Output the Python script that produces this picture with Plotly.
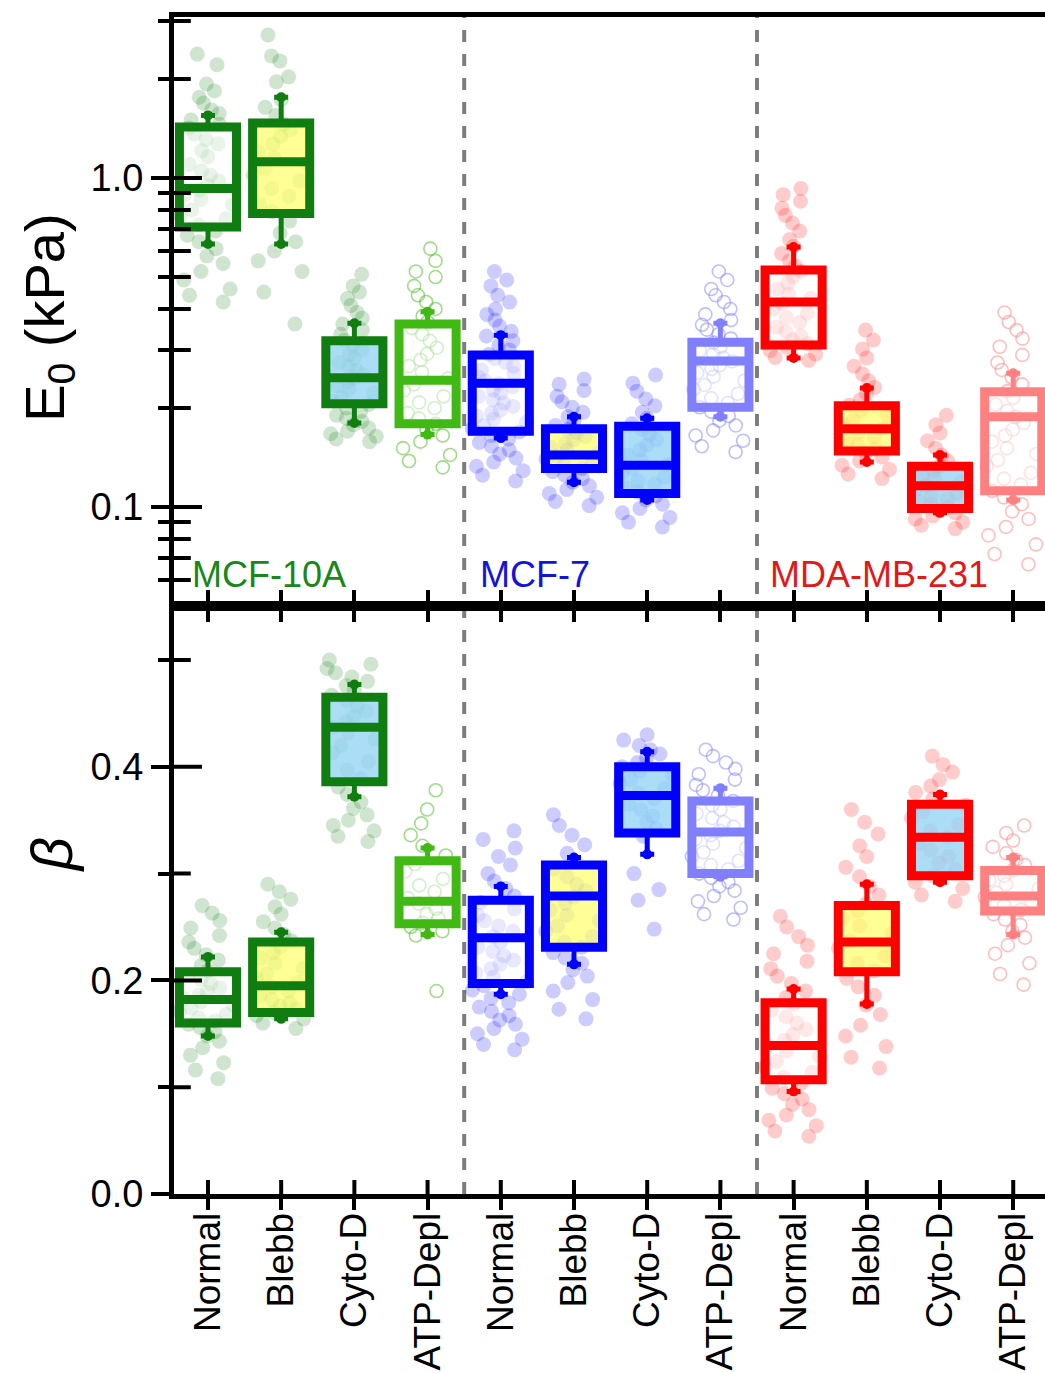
import math
import plotly.graph_objects as go

# ---- categories -------------------------------------------------------------
cell_lines = ["MCF-10A", "MCF-7", "MDA-MB-231"]
treatments = ["Normal", "Blebb", "Cyto-D", "ATP-Depl"]
tick_labels = [t for _ in cell_lines for t in treatments]

# ---- E0 (kPa): box statistics, 12 groups in display order -------------------
e0_q1 = [0.71, 0.78, 0.206, 0.179, 0.170, 0.131, 0.110, 0.201, 0.311, 0.148, 0.099, 0.112]
e0_med = [0.93, 1.12, 0.247, 0.243, 0.238, 0.144, 0.134, 0.278, 0.420, 0.173, 0.116, 0.188]
e0_q3 = [1.43, 1.47, 0.320, 0.360, 0.290, 0.173, 0.176, 0.317, 0.525, 0.203, 0.133, 0.224]
e0_lo = [0.63, 0.63, 0.180, 0.166, 0.162, 0.119, 0.105, 0.188, 0.284, 0.137, 0.096, 0.105]
e0_hi = [1.55, 1.76, 0.362, 0.392, 0.333, 0.188, 0.186, 0.362, 0.617, 0.230, 0.144, 0.255]

# ---- E0 (kPa): individual cells ---------------------------------------------
e0_10a_normal = [2.38, 2.21, 1.93, 1.84, 1.76, 1.69, 1.61, 1.57, 1.50, 1.46, 1.42, 1.36, 1.31, 1.27,
                 1.21, 1.16, 1.10, 1.05, 1.02, 0.98, 0.95, 0.92, 0.89, 0.86, 0.83, 0.80, 0.77, 0.75,
                 0.72, 0.69, 0.67, 0.64, 0.61, 0.58, 0.55, 0.52, 0.49, 0.46, 0.44, 0.42]
e0_10a_blebb = [2.72, 2.35, 2.27, 2.03, 1.96, 1.73, 1.64, 1.55, 1.46, 1.40, 1.34, 1.27, 1.20, 1.15,
                1.11, 1.07, 1.02, 0.98, 0.93, 0.88, 0.83, 0.79, 0.74, 0.68, 0.64, 0.60, 0.56, 0.52,
                0.45, 0.36]
e0_10a_cytod = [0.51, 0.47, 0.45, 0.43, 0.41, 0.39, 0.375, 0.36, 0.345, 0.335, 0.322, 0.31, 0.30,
                0.292, 0.283, 0.275, 0.267, 0.26, 0.253, 0.246, 0.24, 0.234, 0.228, 0.222, 0.216,
                0.21, 0.205, 0.20, 0.195, 0.19, 0.186, 0.182, 0.178, 0.174, 0.17, 0.167, 0.164,
                0.161, 0.158]
e0_10a_atp = [0.61, 0.56, 0.52, 0.50, 0.47, 0.44, 0.42, 0.40, 0.38, 0.365, 0.35, 0.335, 0.32, 0.305,
              0.292, 0.28, 0.268, 0.257, 0.246, 0.236, 0.226, 0.217, 0.208, 0.20, 0.193, 0.186,
              0.179, 0.172, 0.165, 0.158, 0.151, 0.144, 0.138, 0.132]
e0_mcf7_normal = [0.52, 0.49, 0.47, 0.44, 0.42, 0.40, 0.385, 0.37, 0.355, 0.342, 0.331, 0.32, 0.31,
                  0.30, 0.291, 0.283, 0.275, 0.268, 0.261, 0.254, 0.248, 0.242, 0.237, 0.232, 0.227,
                  0.222, 0.217, 0.212, 0.207, 0.202, 0.197, 0.193, 0.189, 0.185, 0.181, 0.177,
                  0.173, 0.169, 0.165, 0.161, 0.157, 0.153, 0.149, 0.145, 0.141, 0.137, 0.133,
                  0.129, 0.125, 0.12]
e0_mcf7_blebb = [0.245, 0.236, 0.226, 0.217, 0.209, 0.201, 0.194, 0.188, 0.182, 0.177, 0.172, 0.168,
                 0.164, 0.16, 0.156, 0.152, 0.149, 0.146, 0.143, 0.14, 0.137, 0.134, 0.131, 0.128,
                 0.125, 0.122, 0.119, 0.116, 0.113, 0.11, 0.107, 0.104, 0.101]
e0_mcf7_cytod = [0.252, 0.238, 0.225, 0.213, 0.203, 0.194, 0.186, 0.179, 0.172, 0.166, 0.16, 0.154,
                 0.149, 0.144, 0.139, 0.135, 0.131, 0.127, 0.123, 0.12, 0.117, 0.114, 0.111, 0.108,
                 0.105, 0.102, 0.099, 0.096, 0.093, 0.09, 0.087]
e0_mcf7_atp = [0.52, 0.49, 0.46, 0.44, 0.42, 0.40, 0.385, 0.37, 0.358, 0.346, 0.335, 0.325, 0.316,
               0.307, 0.299, 0.291, 0.284, 0.277, 0.27, 0.263, 0.256, 0.249, 0.242, 0.235, 0.228,
               0.221, 0.214, 0.207, 0.201, 0.195, 0.189, 0.183, 0.177, 0.171, 0.165, 0.159, 0.153,
               0.147]
e0_mda_normal = [0.93, 0.89, 0.85, 0.81, 0.77, 0.73, 0.69, 0.65, 0.62, 0.59, 0.56, 0.54, 0.52, 0.50,
                 0.48, 0.46, 0.445, 0.43, 0.415, 0.40, 0.388, 0.376, 0.364, 0.352, 0.341, 0.331,
                 0.322, 0.314, 0.306, 0.299, 0.292, 0.285, 0.279]
e0_mda_blebb = [0.345, 0.322, 0.302, 0.284, 0.268, 0.254, 0.242, 0.231, 0.221, 0.212, 0.204, 0.197,
                0.19, 0.184, 0.178, 0.173, 0.168, 0.163, 0.158, 0.154, 0.15, 0.146, 0.142, 0.138,
                0.134, 0.13, 0.126, 0.122]
e0_mda_cytod = [0.19, 0.178, 0.168, 0.159, 0.151, 0.144, 0.138, 0.133, 0.129, 0.125, 0.122, 0.119,
                0.116, 0.113, 0.11, 0.108, 0.106, 0.104, 0.102, 0.10, 0.098, 0.096, 0.094, 0.092,
                0.09, 0.088, 0.086]
e0_mda_atp = [0.39, 0.365, 0.345, 0.325, 0.307, 0.29, 0.275, 0.261, 0.248, 0.236, 0.225, 0.215,
              0.205, 0.196, 0.188, 0.18, 0.172, 0.165, 0.158, 0.151, 0.145, 0.139, 0.133, 0.127,
              0.122, 0.117, 0.112, 0.107, 0.102, 0.097, 0.092, 0.087, 0.082, 0.077, 0.072, 0.067]

# ---- beta: box statistics ----------------------------------------------------
b_q1 = [0.160, 0.170, 0.386, 0.253, 0.197, 0.231, 0.338, 0.300, 0.107, 0.208, 0.298, 0.265]
b_med = [0.182, 0.195, 0.437, 0.274, 0.240, 0.279, 0.373, 0.339, 0.139, 0.236, 0.334, 0.279]
b_q3 = [0.208, 0.236, 0.465, 0.312, 0.275, 0.308, 0.400, 0.368, 0.179, 0.270, 0.365, 0.303]
b_lo = [0.148, 0.164, 0.372, 0.243, 0.187, 0.215, 0.318, 0.297, 0.096, 0.178, 0.292, 0.243]
b_hi = [0.222, 0.245, 0.477, 0.324, 0.288, 0.315, 0.414, 0.380, 0.192, 0.290, 0.374, 0.315]

# ---- beta: individual cells --------------------------------------------------
b_10a_normal = [0.27, 0.263, 0.256, 0.249, 0.242, 0.236, 0.23, 0.224, 0.219, 0.214, 0.209, 0.205,
                0.201, 0.197, 0.193, 0.189, 0.186, 0.183, 0.18, 0.177, 0.174, 0.171, 0.168, 0.165,
                0.162, 0.159, 0.156, 0.152, 0.148, 0.143, 0.137, 0.13, 0.123, 0.116, 0.108]
b_10a_blebb = [0.29, 0.283, 0.276, 0.269, 0.262, 0.255, 0.249, 0.243, 0.237, 0.231, 0.226, 0.221,
               0.216, 0.211, 0.206, 0.202, 0.198, 0.194, 0.19, 0.186, 0.182, 0.179, 0.176, 0.173,
               0.17, 0.167, 0.164, 0.16, 0.155]
b_10a_cytod = [0.50, 0.496, 0.492, 0.488, 0.484, 0.48, 0.476, 0.472, 0.467, 0.462, 0.457, 0.452,
               0.447, 0.442, 0.437, 0.432, 0.426, 0.42, 0.413, 0.405, 0.397, 0.389, 0.381, 0.374,
               0.367, 0.361, 0.355, 0.35, 0.345, 0.34, 0.335, 0.33]
b_10a_atp = [0.378, 0.36, 0.347, 0.336, 0.326, 0.317, 0.309, 0.302, 0.295, 0.289, 0.283, 0.277,
             0.272, 0.267, 0.262, 0.258, 0.254, 0.25, 0.246, 0.242, 0.19]
b_mcf7_normal = [0.34, 0.332, 0.324, 0.316, 0.308, 0.30, 0.293, 0.286, 0.279, 0.273, 0.267, 0.261,
                 0.256, 0.251, 0.246, 0.241, 0.236, 0.231, 0.227, 0.223, 0.219, 0.215, 0.211,
                 0.207, 0.203, 0.199, 0.195, 0.191, 0.187, 0.183, 0.179, 0.175, 0.171, 0.167,
                 0.163, 0.159, 0.155, 0.15, 0.145, 0.14, 0.135]
b_mcf7_blebb = [0.355, 0.345, 0.336, 0.327, 0.319, 0.311, 0.304, 0.297, 0.29, 0.284, 0.278, 0.272,
                0.266, 0.261, 0.256, 0.251, 0.246, 0.241, 0.236, 0.231, 0.226, 0.221, 0.216, 0.21,
                0.204, 0.198, 0.19, 0.182, 0.173, 0.164]
b_mcf7_cytod = [0.43, 0.425, 0.42, 0.416, 0.412, 0.408, 0.404, 0.40, 0.396, 0.392, 0.388, 0.384,
                0.38, 0.375, 0.37, 0.365, 0.36, 0.354, 0.348, 0.342, 0.335, 0.30, 0.285, 0.275,
                0.248]
b_mcf7_atp = [0.416, 0.41, 0.404, 0.398, 0.393, 0.388, 0.383, 0.378, 0.373, 0.368, 0.364, 0.36,
              0.356, 0.352, 0.348, 0.344, 0.34, 0.336, 0.332, 0.328, 0.324, 0.32, 0.316, 0.312,
              0.308, 0.304, 0.30, 0.296, 0.292, 0.288, 0.284, 0.279, 0.274, 0.268, 0.262, 0.257]
b_mda_normal = [0.26, 0.25, 0.241, 0.233, 0.225, 0.218, 0.211, 0.204, 0.197, 0.19, 0.184, 0.178,
                0.172, 0.166, 0.16, 0.154, 0.149, 0.144, 0.139, 0.134, 0.129, 0.124, 0.119, 0.114,
                0.109, 0.104, 0.099, 0.094, 0.089, 0.084, 0.079, 0.074, 0.069, 0.064, 0.059, 0.054]
b_mda_blebb = [0.36, 0.348, 0.337, 0.326, 0.316, 0.306, 0.297, 0.288, 0.28, 0.272, 0.265, 0.258,
               0.251, 0.244, 0.237, 0.23, 0.223, 0.216, 0.209, 0.202, 0.194, 0.186, 0.177, 0.168,
               0.158, 0.148, 0.138, 0.128, 0.118]
b_mda_cytod = [0.41, 0.402, 0.395, 0.388, 0.382, 0.376, 0.37, 0.364, 0.358, 0.352, 0.346, 0.34,
               0.334, 0.328, 0.322, 0.316, 0.31, 0.304, 0.298, 0.292, 0.286, 0.28, 0.274]
b_mda_atp = [0.345, 0.338, 0.331, 0.325, 0.319, 0.313, 0.308, 0.303, 0.298, 0.294, 0.29, 0.286,
             0.282, 0.278, 0.274, 0.27, 0.266, 0.262, 0.257, 0.252, 0.246, 0.24, 0.233, 0.225,
             0.216, 0.206, 0.196]

e0_points = [e0_10a_normal, e0_10a_blebb, e0_10a_cytod, e0_10a_atp,
             e0_mcf7_normal, e0_mcf7_blebb, e0_mcf7_cytod, e0_mcf7_atp,
             e0_mda_normal, e0_mda_blebb, e0_mda_cytod, e0_mda_atp]
b_points = [b_10a_normal, b_10a_blebb, b_10a_cytod, b_10a_atp,
            b_mcf7_normal, b_mcf7_blebb, b_mcf7_cytod, b_mcf7_atp,
            b_mda_normal, b_mda_blebb, b_mda_cytod, b_mda_atp]

# ---- axis ticks ----------------------------------------------------------------
e0_major = [0.1, 1.0]
e0_minor = [0.06, 0.07, 0.08, 0.09, 0.2, 0.3, 0.4, 0.5, 0.6, 0.7, 0.8, 0.9, 2, 3]
b_major = [0.0, 0.2, 0.4]
b_minor = [0.1, 0.3, 0.5]

# ---- styling -----------------------------------------------------------------
FONT = "Arial, 'Liberation Sans', sans-serif"
line_rgb = [(15, 125, 15)] * 3 + [(65, 185, 20)] + \
           [(0, 0, 255)] * 3 + [(128, 128, 255)] + \
           [(255, 0, 0)] * 3 + [(255, 128, 128)]
fill_by_treatment = {
    "Normal": "rgba(255,255,255,0.55)",
    "Blebb": "rgba(255,255,110,0.72)",
    "Cyto-D": "rgba(150,212,245,0.80)",
    "ATP-Depl": "rgba(255,255,255,0.55)",
}
label_colors = ["rgb(25,135,25)", "rgb(20,20,215)", "rgb(225,25,25)"]


def rgba(c, a):
    return f"rgba({c[0]},{c[1]},{c[2]},{a})"


fig = go.Figure()

panels = [
    ("x2", "y", e0_points, e0_q1, e0_med, e0_q3, e0_lo, e0_hi),
    ("x", "y2", b_points, b_q1, b_med, b_q3, b_lo, b_hi),
]

for xa, ya, pts, q1, med, q3, lo, hi in panels:
    for i, vals in enumerate(pts):
        c = line_rgb[i]
        treat = tick_labels[i]
        is_open = treat == "ATP-Depl"
        # individual cells, spread by the box trace's own jitter
        fig.add_trace(go.Box(
            x=[i] * len(vals), y=vals, xaxis=xa, yaxis=ya,
            boxpoints="all", jitter=1.0, pointpos=0, width=0.8,
            line=dict(width=0, color="rgba(0,0,0,0)"), fillcolor="rgba(0,0,0,0)",
            marker=dict(
                symbol="circle-open" if is_open else "circle",
                size=13 if is_open else 15,
                color=rgba(c, 0.5) if is_open else rgba(c, 0.2),
                line=dict(width=1.6 if is_open else 0, color=rgba(c, 0.5)),
            ),
            hoverinfo="skip", showlegend=False,
        ))
        # interquartile box with median
        fig.add_trace(go.Box(
            x=[i], q1=[q1[i]], median=[med[i]], q3=[q3[i]],
            lowerfence=[q1[i]], upperfence=[q3[i]],
            xaxis=xa, yaxis=ya, width=0.78, whiskerwidth=0,
            boxpoints=False, line=dict(color=rgba(c, 1), width=9),
            fillcolor=fill_by_treatment[treat], showlegend=False, hoverinfo="skip",
        ))
        # whiskers
        fig.add_trace(go.Scatter(
            x=[i, i], y=[q3[i], q1[i]], xaxis=xa, yaxis=ya, mode="markers",
            marker=dict(size=1, color="rgba(0,0,0,0)"),
            error_y=dict(type="data", symmetric=False,
                         array=[hi[i] - q3[i], 0], arrayminus=[0, q1[i] - lo[i]],
                         thickness=5, width=7, color=rgba(c, 1)),
            showlegend=False, hoverinfo="skip",
        ))
        fig.add_trace(go.Scatter(
            x=[i, i], y=[hi[i], lo[i]], xaxis=xa, yaxis=ya, mode="markers",
            marker=dict(symbol="circle", size=10, color=rgba(c, 1)),
            showlegend=False, hoverinfo="skip",
        ))

# ---- axes --------------------------------------------------------------------
x_range = [-0.464, 11.434]
split = 0.5
e0_range = [math.log10(0.0502), math.log10(3.086)]
b_range = [0, 0.551]


def inner_ticks(xa, ya, xs, ys, symbol, size):
    """Tick marks on the plot side of an axis line; the clip keeps the inner half."""
    fig.add_trace(go.Scatter(
        x=xs, y=ys, xaxis=xa, yaxis=ya, mode="markers", cliponaxis=True,
        marker=dict(symbol=symbol, size=size, color="black",
                    line=dict(width=4, color="black")),
        showlegend=False, hoverinfo="skip",
    ))


inner_ticks("x2", "y", [x_range[0]] * len(e0_major), e0_major, "line-ew", 40)
inner_ticks("x2", "y", [x_range[0]] * len(e0_minor), e0_minor, "line-ew", 24)
inner_ticks("x", "y2", [x_range[0]] * 2, b_major[1:], "line-ew", 40)
inner_ticks("x", "y2", [x_range[0]] * len(b_minor), b_minor, "line-ew", 24)
inner_ticks("x", "y2", list(range(len(tick_labels))), [b_range[0]] * len(tick_labels),
            "line-ns", 20)

common = dict(showgrid=False, zeroline=False, linecolor="black", tickcolor="black",
              automargin=False)

fig.update_layout(
    width=1045, height=1373,
    margin=dict(l=174, r=0, t=17, b=179),
    plot_bgcolor="white", paper_bgcolor="white",
    boxmode="overlay", showlegend=False,
    font=dict(family=FONT, color="black"),
    xaxis=dict(domain=[0, 1], anchor="y2", range=x_range,
               tickmode="array", tickvals=list(range(len(tick_labels))), ticktext=tick_labels,
               tickangle=-90, tickfont=dict(size=37, family=FONT), ticklabelstandoff=-12,
               ticks="outside", ticklen=11, tickwidth=4,
               showline=True, linewidth=5, mirror="ticks", **common),
    xaxis2=dict(domain=[0, 1], anchor="y", range=x_range,
                tickmode="array", tickvals=list(range(len(tick_labels))),
                showticklabels=False, ticks="outside", ticklen=11, tickwidth=4,
                showline=True, linewidth=5, mirror=True, **common),
    yaxis=dict(domain=[split, 1], anchor="x2", type="log", range=e0_range,
               tickmode="array", tickvals=e0_major, ticktext=["0.1", "1.0"],
               tickfont=dict(size=38, family=FONT),
               ticks="outside", ticklen=18, tickwidth=4,
               minor=dict(tickmode="array", tickvals=e0_minor, ticks="outside",
                          ticklen=11, tickwidth=4, tickcolor="black", showgrid=False),
               showline=True, linewidth=5, **common),
    yaxis2=dict(domain=[0, split], anchor="x", range=b_range,
                tickmode="array", tickvals=b_major, ticktext=["0.0", "0.2", "0.4"],
                tickfont=dict(size=38, family=FONT),
                ticks="outside", ticklen=18, tickwidth=4,
                minor=dict(tickmode="array", tickvals=b_minor, ticks="outside",
                           ticklen=11, tickwidth=4, tickcolor="black", showgrid=False),
                showline=True, linewidth=5, **common),
)

# dashed separators between cell lines
n_treat = len(treatments)
for k in range(1, len(cell_lines)):
    fig.add_shape(type="line", xref="x", yref="paper",
                  x0=k * n_treat - 0.5, x1=k * n_treat - 0.5, y0=0, y1=1,
                  line=dict(color="rgb(125,125,125)", width=4, dash="12px,12px"),
                  layer="below")

# cell-line labels
label_x = [-0.25, 3.69, 7.65]
for name, xpos, col in zip(cell_lines, label_x, label_colors):
    fig.add_annotation(text=name, x=xpos, xref="x", y=0.526, yref="paper",
                       xanchor="left", yanchor="middle", showarrow=False,
                       font=dict(size=36, color=col, family=FONT))

# axis titles
fig.add_annotation(text="E<sub>0</sub> (kPa)", x=-0.145, xref="paper", y=0.745, yref="paper",
                   textangle=-90, xanchor="center", yanchor="middle", showarrow=False,
                   font=dict(size=56, family=FONT, color="black"))
fig.add_annotation(text="<i>β</i>", x=-0.141, xref="paper", y=0.288, yref="paper",
                   textangle=-90, xanchor="center", yanchor="middle", showarrow=False,
                   font=dict(size=58, family=FONT, color="black"))

fig.write_html("out.html")
